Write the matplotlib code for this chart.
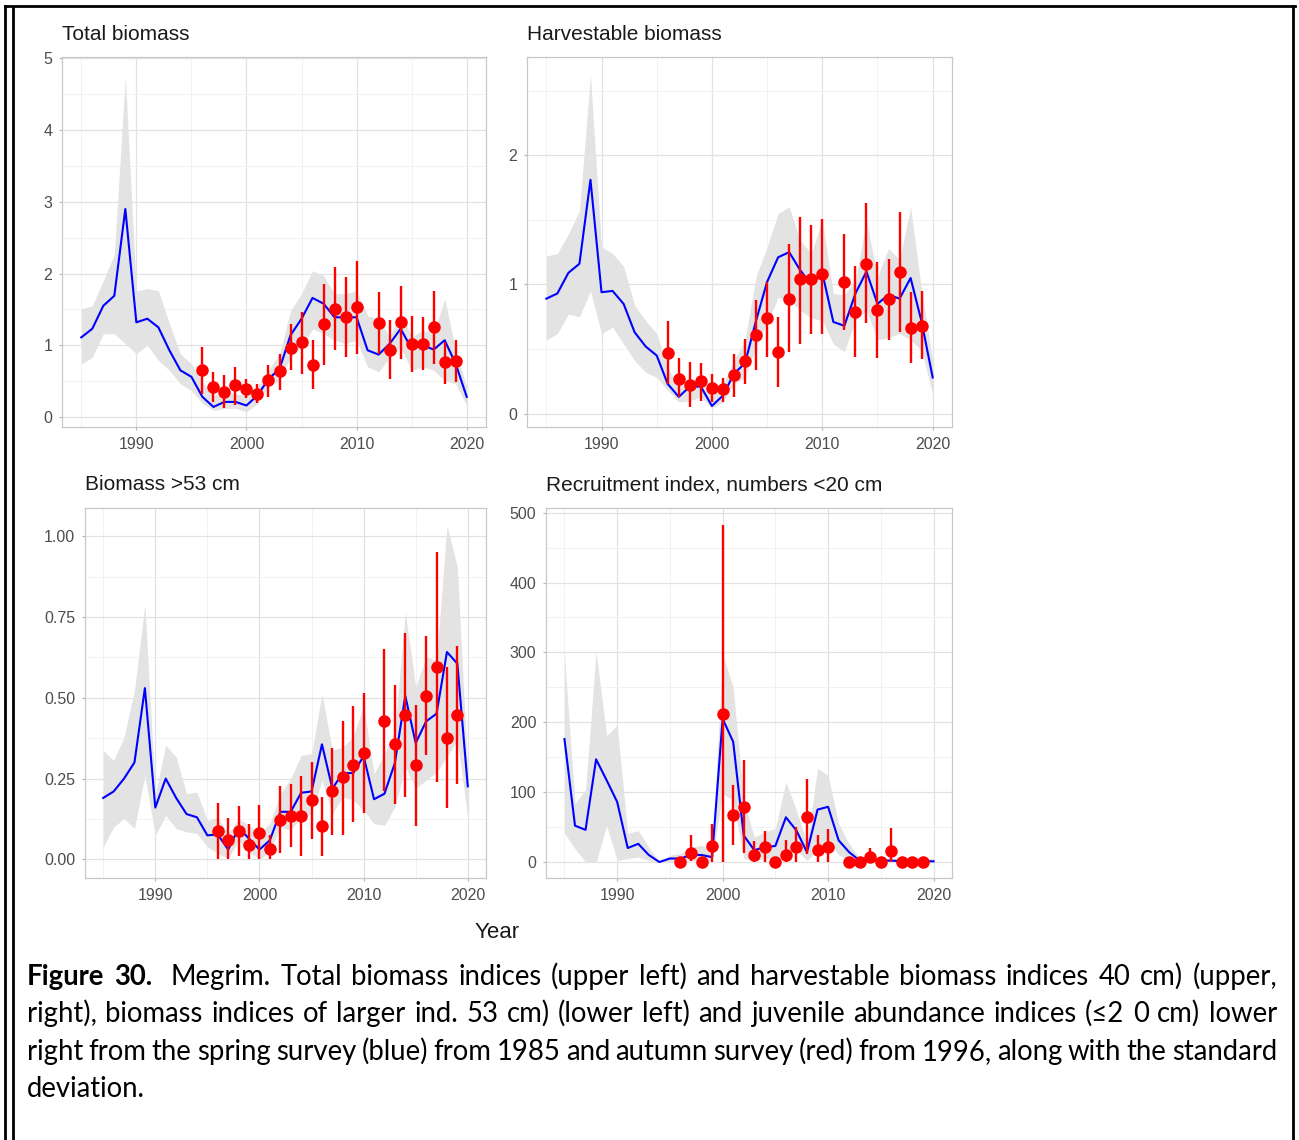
"""Megrim survey indices, four panels (spring line + SD ribbon, autumn points + SD bars)."""

import matplotlib

matplotlib.use("Agg")
import matplotlib.pyplot as plt
from matplotlib.lines import Line2D
from matplotlib.ticker import FixedLocator

W, H = 1299, 1140

SPRING_YEARS = list(range(1985, 2021))
AUTUMN_YEARS = list(range(1996, 2011)) + list(range(2012, 2020))

# Total biomass
tot_sp = [1.11, 1.23, 1.55, 1.69, 2.90, 1.32, 1.37, 1.25, 0.93, 0.65,
          0.56, 0.28, 0.14, 0.21, 0.21, 0.16, 0.30, 0.53, 0.67, 1.14,
          1.37, 1.66, 1.58, 1.39, 1.39, 1.39, 0.93, 0.87, 1.02, 1.23,
          0.95, 1.00, 0.94, 1.07, 0.74, 0.28]
tot_sp_hi = [1.51, 1.55, 1.90, 2.27, 4.75, 1.76, 1.79, 1.76, 1.30, 0.88,
             0.74, 0.49, 0.30, 0.35, 0.32, 0.30, 0.42, 0.65, 0.88, 1.48,
             1.72, 2.04, 1.97, 1.72, 1.72, 1.76, 1.41, 1.37, 1.11, 1.48,
             1.11, 1.21, 1.16, 1.65, 0.93, 0.42]
tot_sp_lo = [0.74, 0.83, 1.16, 1.16, 1.02, 0.88, 1.00, 0.79, 0.65, 0.46,
             0.37, 0.19, 0.09, 0.12, 0.12, 0.07, 0.19, 0.42, 0.51, 0.83,
             0.97, 1.23, 1.16, 1.07, 1.02, 1.07, 0.70, 0.63, 0.83, 0.97,
             0.65, 0.70, 0.65, 0.51, 0.46, 0.16]
tot_au = [0.65, 0.42, 0.35, 0.44, 0.39, 0.32, 0.51, 0.64, 0.96, 1.04, 0.73, 1.29,
          1.51, 1.39, 1.53, 1.31, 0.94, 1.33, 1.02, 1.02, 1.25, 0.77, 0.78]
tot_au_hi = [0.97, 0.63, 0.58, 0.70, 0.53, 0.46, 0.72, 0.88, 1.30, 1.46, 1.07, 1.86,
             2.09, 1.95, 2.18, 1.74, 1.35, 1.83, 1.41, 1.39, 1.76, 1.04, 1.07]
tot_au_lo = [0.32, 0.21, 0.12, 0.16, 0.26, 0.19, 0.28, 0.37, 0.65, 0.60, 0.39, 0.72,
             0.93, 0.83, 0.88, 0.88, 0.53, 0.81, 0.63, 0.65, 0.74, 0.46, 0.49]

# Harvestable biomass
hv_sp = [0.89, 0.93, 1.09, 1.16, 1.81, 0.94, 0.95, 0.85, 0.63, 0.52,
         0.45, 0.23, 0.13, 0.21, 0.21, 0.06, 0.14, 0.31, 0.39, 0.72,
         1.02, 1.21, 1.25, 1.11, 1.00, 1.09, 0.71, 0.68, 0.93, 1.10,
         0.85, 0.92, 0.89, 1.05, 0.71, 0.28]
hv_sp_hi = [1.22, 1.24, 1.39, 1.57, 2.62, 1.29, 1.24, 1.14, 0.84, 0.72,
            0.62, 0.36, 0.21, 0.26, 0.26, 0.14, 0.23, 0.41, 0.57, 1.06,
            1.29, 1.55, 1.60, 1.34, 1.24, 1.50, 0.93, 0.92, 1.03, 1.50,
            1.06, 1.28, 1.19, 1.60, 0.95, 0.41]
hv_sp_lo = [0.57, 0.62, 0.77, 0.75, 0.95, 0.62, 0.67, 0.54, 0.41, 0.32,
            0.28, 0.18, 0.09, 0.10, 0.13, 0.04, 0.09, 0.23, 0.28, 0.52,
            0.70, 0.90, 0.88, 0.80, 0.74, 0.72, 0.54, 0.48, 0.72, 0.80,
            0.57, 0.59, 0.62, 0.57, 0.49, 0.15]
hv_au = [0.47, 0.27, 0.22, 0.25, 0.20, 0.19, 0.30, 0.41, 0.61, 0.74, 0.48, 0.89,
         1.04, 1.04, 1.08, 1.02, 0.79, 1.16, 0.80, 0.89, 1.10, 0.66, 0.68]
hv_au_hi = [0.72, 0.43, 0.40, 0.39, 0.31, 0.28, 0.46, 0.58, 0.88, 1.02, 0.75, 1.31,
            1.52, 1.46, 1.51, 1.39, 1.14, 1.63, 1.17, 1.20, 1.56, 0.94, 0.95]
hv_au_lo = [0.23, 0.13, 0.05, 0.10, 0.09, 0.09, 0.13, 0.23, 0.34, 0.44, 0.21, 0.48,
            0.54, 0.62, 0.62, 0.65, 0.44, 0.70, 0.43, 0.57, 0.63, 0.39, 0.42]

# Biomass >53 cm
lg_sp = [0.19, 0.21, 0.25, 0.30, 0.53, 0.16, 0.25, 0.19, 0.14, 0.13,
         0.074, 0.077, 0.03, 0.097, 0.064, 0.03, 0.059, 0.147, 0.147, 0.206,
         0.21, 0.356, 0.219, 0.267, 0.267, 0.319, 0.186, 0.203, 0.298, 0.506,
         0.36, 0.427, 0.451, 0.642, 0.606, 0.226]
lg_sp_hi = [0.337, 0.306, 0.379, 0.523, 0.79, 0.203, 0.353, 0.317, 0.203, 0.208,
            0.12, 0.13, 0.08, 0.126, 0.105, 0.08, 0.11, 0.203, 0.25, 0.322,
            0.327, 0.513, 0.337, 0.348, 0.379, 0.477, 0.265, 0.327, 0.40, 0.766,
            0.534, 0.626, 0.616, 1.034, 0.905, 0.27]
lg_sp_lo = [0.038, 0.10, 0.126, 0.095, 0.26, 0.074, 0.136, 0.095, 0.085, 0.08,
            0.038, 0.018, 0.002, 0.059, 0.023, 0.0, 0.023, 0.10, 0.09, 0.131,
            0.141, 0.245, 0.141, 0.193, 0.183, 0.152, 0.11, 0.105, 0.162, 0.286,
            0.219, 0.245, 0.27, 0.317, 0.368, 0.13]
lg_au = [0.088, 0.059, 0.088, 0.045, 0.082, 0.033, 0.123, 0.134, 0.133, 0.183, 0.102, 0.21,
         0.255, 0.293, 0.329, 0.427, 0.356, 0.446, 0.291, 0.506, 0.595, 0.377, 0.446]
lg_au_hi = [0.174, 0.128, 0.165, 0.11, 0.167, 0.074, 0.226, 0.232, 0.257, 0.301, 0.193, 0.346,
            0.428, 0.474, 0.516, 0.652, 0.541, 0.70, 0.479, 0.69, 0.951, 0.595, 0.66]
lg_au_lo = [0.0, 0.0, 0.009, 0.0, 0.0, 0.0, 0.018, 0.038, 0.009, 0.062, 0.009, 0.074,
            0.076, 0.116, 0.144, 0.21, 0.172, 0.193, 0.102, 0.322, 0.239, 0.159, 0.234]

# Recruitment index, numbers <20 cm
rc_sp = [176, 52, 46, 147, 117, 86, 20, 26, 10, 0,
         5, 5, 10, 10, 7, 205, 172, 38, 17, 21,
         23, 64, 45, 14, 75, 79, 31, 14, 2, 3,
         2, 2, 1, 1, 1, 1]
rc_sp_hi = [296, 84, 103, 301, 181, 196, 41, 45, 21, 0,
            10, 12, 21, 24, 17, 298, 250, 88, 36, 43,
            48, 115, 74, 26, 134, 124, 55, 26, 5, 5,
            5, 5, 5, 5, 5, 5]
rc_sp_lo = [41, 19, 0, 0, 52, 2, 5, 7, 2, 0,
            0, 0, 2, 2, 2, 98, 88, 5, 2, 5,
            5, 17, 17, 2, 17, 31, 10, 2, 0, 0,
            0, 0, 0, 0, 0, 0]
rc_au = [0, 13, 0, 23, 212, 67, 79, 10, 21, 0, 10, 21,
         65, 17, 22, 0, 0, 7, 0, 16, 0, 0, 0]
rc_au_hi = [0, 38, 0, 55, 483, 110, 146, 30, 45, 0, 31, 50,
            119, 38, 47, 0, 0, 20, 0, 48, 0, 0, 0]
rc_au_lo = [0, 2, 0, 0, 0, 24, 13, 0, 0, 0, 0, 0,
            12, 0, 0, 0, 0, 0, 0, 0, 0, 0, 0]

CAPTION = [
    "Figure 30.  Megrim. Total biomass indices (upper left) and harvestable biomass indices 40 cm) (upper,",
    "right), biomass indices of larger ind. 53 cm) (lower left) and juvenile abundance indices (\u22642 0 cm) lower",
    "right from the spring survey (blue) from 1985 and autumn survey (red) from 1996, along with the standard",
    "deviation.",
]

plt.rcParams["font.family"] = ["Liberation Sans", "DejaVu Sans"]

fig = plt.figure(figsize=(W / 100, H / 100), dpi=100)


def px_axes(left, top, right, bottom):
    return fig.add_axes([left / W, 1 - bottom / H, (right - left) / W, (bottom - top) / H])


def panel(box, title, sp, sp_lo, sp_hi, au, au_lo, au_hi, ylim, yticks, yminor, fmt):
    ax = px_axes(*box)
    ax.set_axisbelow(True)
    ax.fill_between(SPRING_YEARS, sp_lo, sp_hi, color="#E3E3E3", lw=0, zorder=1)
    ax.plot(SPRING_YEARS, sp, color="#0000FF", lw=1.5, zorder=2)
    yerr = [[v - lo for v, lo in zip(au, au_lo)], [hi - v for v, hi in zip(au, au_hi)]]
    ax.errorbar(AUTUMN_YEARS, au, yerr=yerr, fmt="o", color="#FF0000", ms=8,
                elinewidth=1.7, capsize=0, zorder=3)
    ax.set_xlim(1983.25, 2021.75)
    ax.set_ylim(*ylim)
    ax.xaxis.set_major_locator(FixedLocator([1990, 2000, 2010, 2020]))
    ax.xaxis.set_minor_locator(FixedLocator([1985, 1995, 2005, 2015]))
    ax.yaxis.set_major_locator(FixedLocator(yticks))
    ax.yaxis.set_minor_locator(FixedLocator(yminor))
    ax.set_yticklabels([fmt.format(v) for v in yticks])
    ax.grid(which="major", color="#E2E2E2", lw=0.9)
    ax.grid(which="minor", color="#F0F0F0", lw=0.6)
    for s in ax.spines.values():
        s.set_color("#C8C8C8")
        s.set_linewidth(0.9)
    ax.tick_params(which="major", length=2.5, width=0.8, color="#B3B3B3",
                   labelcolor="#4D4D4D", labelsize=11.5)
    ax.tick_params(axis="x", pad=4.5)
    ax.tick_params(axis="y", pad=4.5)
    ax.tick_params(which="minor", length=0)
    fig.text(box[0] / W, 1 - (box[1] - 23) / H, title, fontsize=15, color="#1A1A1A",
             ha="left", va="center")
    return ax


panel((62, 57, 486, 427), "Total biomass", tot_sp, tot_sp_lo, tot_sp_hi,
      tot_au, tot_au_lo, tot_au_hi, (-0.14, 5.02), [0, 1, 2, 3, 4, 5],
      [0.5, 1.5, 2.5, 3.5, 4.5], "{:g}")
panel((527, 57, 952, 427), "Harvestable biomass", hv_sp, hv_sp_lo, hv_sp_hi,
      hv_au, hv_au_lo, hv_au_hi, (-0.103, 2.76), [0, 1, 2], [0.5, 1.5, 2.5], "{:g}")
panel((85, 508, 486, 878), "Biomass >53 cm", lg_sp, lg_sp_lo, lg_sp_hi,
      lg_au, lg_au_lo, lg_au_hi, (-0.058, 1.088), [0, 0.25, 0.5, 0.75, 1.0],
      [0.125, 0.375, 0.625, 0.875], "{:.2f}")
panel((546, 508, 952, 878), "Recruitment index, numbers <20 cm", rc_sp, rc_sp_lo, rc_sp_hi,
      rc_au, rc_au_lo, rc_au_hi, (-22.9, 506.7), [0, 100, 200, 300, 400, 500],
      [50, 150, 250, 350, 450], "{:g}")

fig.text(497 / W, 1 - 932 / H, "Year", fontsize=16, color="#1A1A1A", ha="center", va="center")

# page frame around figure + caption
frame = [((5, 5), (6, H)), ((13, 13), (8, H)), ((5, 1295), (6, 6)), ((1293, 1293), (6, H))]
for xs, ys in frame:
    fig.add_artist(Line2D([x / W for x in xs], [1 - y / H for y in ys], color="black",
                          lw=2.0, transform=fig.transFigure))

# justified caption
cap_fam = ["Lato", "DejaVu Sans"]
x0, x1 = 27, 1277
baselines = [985, 1022, 1060, 1097]
renderer = fig.canvas.get_renderer()


def word_width(word, size, bold):
    t = fig.text(0, 0, word, fontsize=size, family=cap_fam,
                 fontweight="bold" if bold else "normal")
    w = t.get_window_extent(renderer).width
    t.remove()
    return w


size = 21.0
space = word_width("a a", size, False) - word_width("aa", size, False)
natural = []
for line in CAPTION[:3]:
    words = line.split()
    natural.append(sum(word_width(w, size, i < 2 and line.startswith("Figure"))
                       for i, w in enumerate(words)) + 0.7 * space * (len(words) - 1))
if max(natural) > (x1 - x0):
    size *= (x1 - x0) / max(natural) * 0.995
    space = word_width("a a", size, False) - word_width("aa", size, False)

for k, line in enumerate(CAPTION):
    words = line.split()
    bold = [line.startswith("Figure") and i < 2 for i in range(len(words))]
    widths = [word_width(w, size, b) for w, b in zip(words, bold)]
    weights = [2.0 if (bold[i] and not bold[i + 1]) else 1.0 for i in range(len(words) - 1)]
    if k < len(CAPTION) - 1:
        gap = (x1 - x0 - sum(widths)) / sum(weights)
    else:
        gap = space
    x = x0
    for i, (w, b, wd) in enumerate(zip(words, bold, widths)):
        fig.text(x / W, 1 - baselines[k] / H, w, fontsize=size, family=cap_fam,
                 fontweight="bold" if b else "normal", color="black",
                 ha="left", va="baseline")
        x += wd + (gap * weights[i] if i < len(weights) else 0)

fig.savefig("out.png", dpi=100)
